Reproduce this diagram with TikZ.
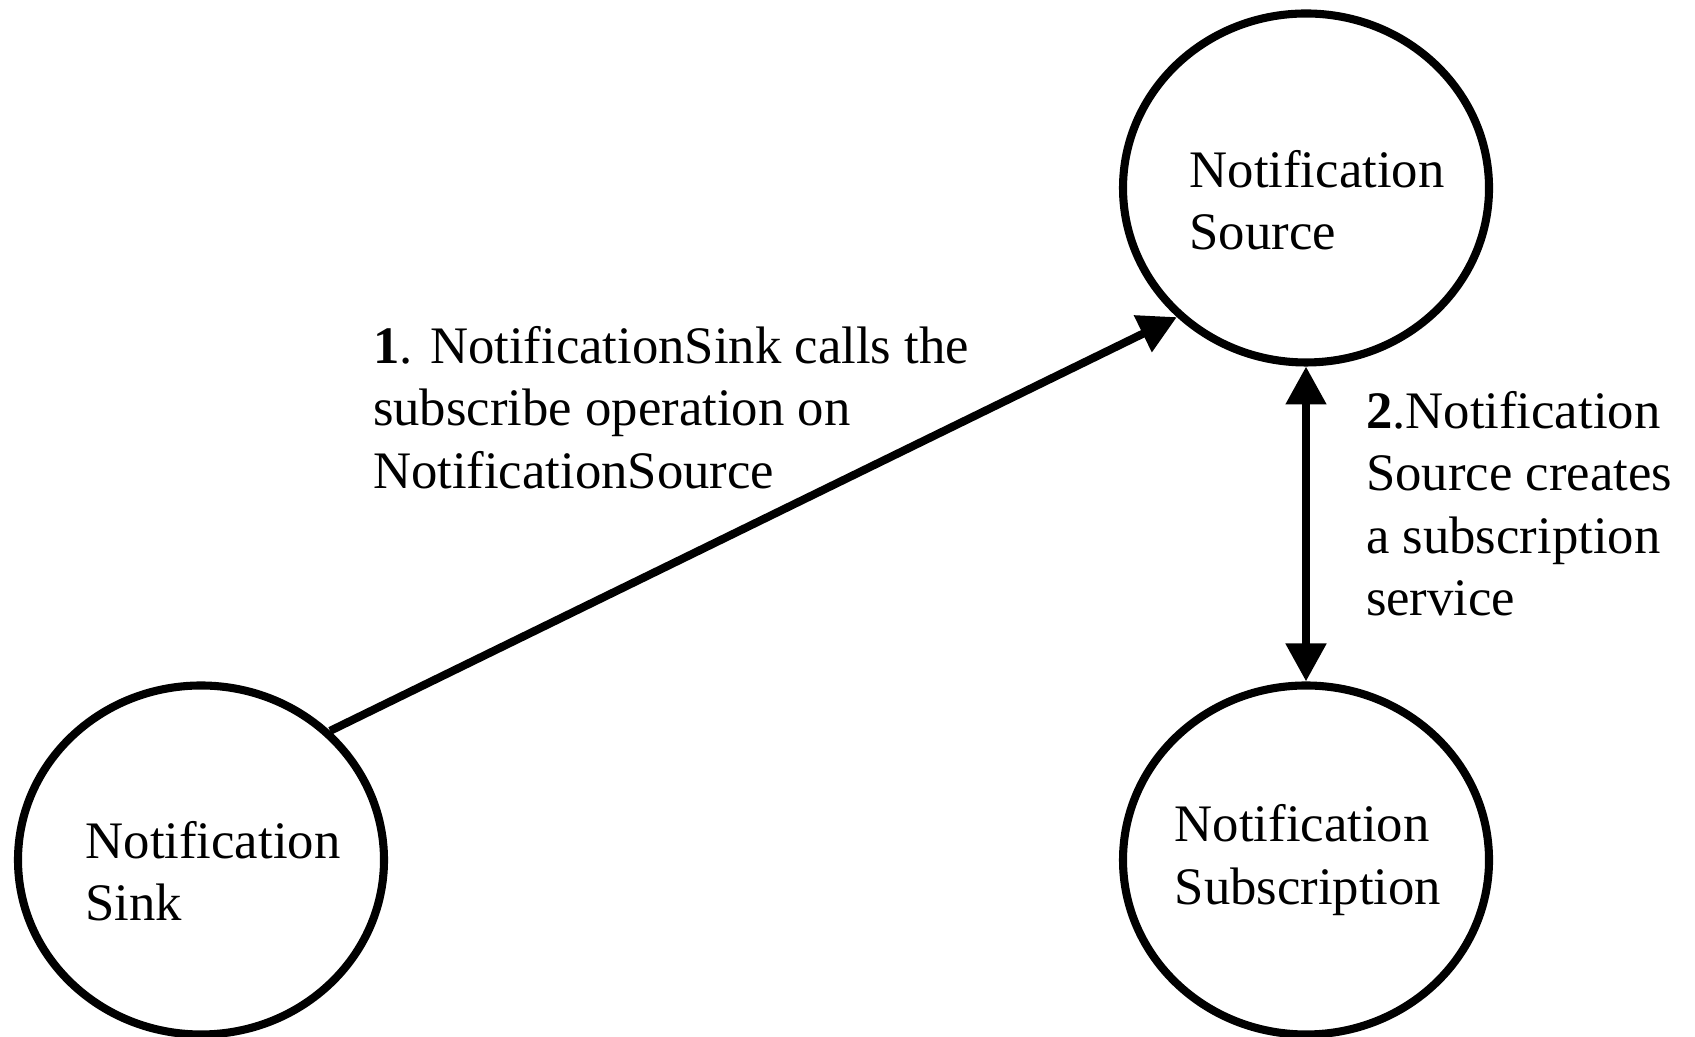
\documentclass[tikz,border=0pt]{standalone}
\usepackage{fontspec}
\setmainfont{Liberation Serif}
\usetikzlibrary{positioning, shapes.geometric, arrows.meta}

\begin{document}
\begin{tikzpicture} [-> , >= {Triangle[length = 10.8pt, width = 11.1pt]}, line width = 2.3pt, node distance = 6.72cm,
        party/.style = {draw, ellipse, minimum width = 3.66cm, minimum height = 3.49cm},
        note/.style = {align = left, inner sep = 0pt, anchor = north west, font = \fontsize{15}{17.8}\selectfont}]
        \useasboundingbox (0,0) rectangle (16.95,10.37);

        \node [party, label = {[note, anchor = center, shift = {(0.11,-0.12)}]center:Notification\\Source}] (src) at (13.06,8.49) {};
        \node [party, label = {[note, anchor = center, shift = {(0.02,0.0)}]center:Notification\\Subscription}] (sub) [below of = src] {};
        \node [party, label = {[note, anchor = center, shift = {(0.12,-0.11)}]center:Notification\\Sink}] (sink) [left of = sub, node distance = 11.05cm] {};

        \node [note] (step1) at (3.69,7.15) {\textbf{1}. NotificationSink calls the\\subscribe operation on\\NotificationSource};
        \node [note] (step2) at (13.62,6.50) {\textbf{2}.Notification\\Source creates\\a subscription\\service};

        \path (sink.45) edge (src.225);
        \path (src) edge [<->] (sub);

    \end{tikzpicture}
\end{document}
